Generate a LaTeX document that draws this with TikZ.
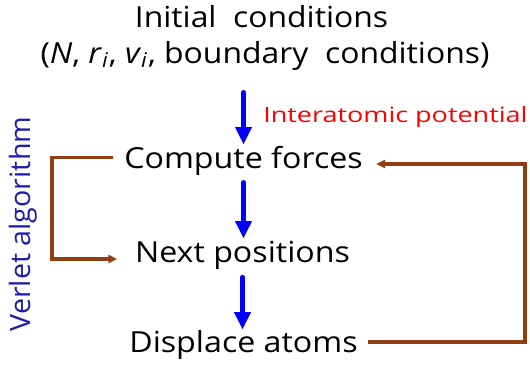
\documentclass[tikz,border=0pt]{standalone}
\usepackage{fontspec}
\setmainfont{Open Sans}
\usetikzlibrary{arrows.meta, positioning, calc}
\definecolor{loopbrown}{RGB}{145,62,16}
\definecolor{verletblue}{RGB}{30,30,170}

\begin{document}
\begin{tikzpicture}[
    x=0.02cm, y=-0.02cm,
    stepbox/.style ={inner sep=0pt, anchor=base, font=\fontsize{16.5}{19}\selectfont},
    title/.style   ={inner sep=0pt, anchor=base, font=\fontsize{16.5}{19}\selectfont},
    flow/.style    ={-{Triangle[length=10pt, width=9pt]}, line width=2.6pt, line cap=round, blue},
    loopline/.style={-{Triangle[length=5pt, width=4.6pt]}, line width=1.8pt, loopbrown},
  ]
  \useasboundingbox (0,0) rectangle (530,365);

  % ---- initial conditions (top) ----
  \node[title] (init)   at (261.5,28) {\scalebox{1.1}[1]{Initial\ \ conditions}};
  \node[title] (params) at (265,63)
    {\scalebox{1.1}[1]{(\textit{N}, \textit{r}\textsubscript{\textit{i}}, \textit{v}\textsubscript{\textit{i}}, boundary\ \ conditions)}};

  % ---- main steps ----
  \node[stepbox] (compute)  at (243.5,168) {\scalebox{1.11}[1]{Compute forces}};
  \node[stepbox] (nextpos)  at (242.5,262) {\scalebox{1.11}[1]{Next positions}};
  \node[stepbox] (displace) at (243.5,352) {\scalebox{1.11}[1]{Displace atoms}};

  % ---- labels ----
  \node[red, anchor=base west, inner sep=0pt, font=\fontsize{12}{15}\selectfont]
    (potential) at (263,122) {\scalebox{1.28}[1]{Interatomic potential}};
  \node[verletblue, rotate=90, inner sep=0pt, font=\fontsize{16}{19}\selectfont]
    (verlet) at (23,224) {\scalebox{1.02}[1]{Verlet algorithm}};

  % ---- loop corners ----
  \coordinate (lcorner) at (52,259);
  \coordinate (rcorner) at (525,164);

  % ---- downward flow ----
  \draw[flow, shorten <=12.5pt, shorten >=0.5pt] (compute.north |- params.south) -- (compute.north);
  \draw[flow, shorten <=4pt, shorten >=1pt] (compute.south) -- (compute.south |- nextpos.north);
  \draw[flow, shorten <=4.5pt, shorten >=0pt] (nextpos.south) -- (nextpos.south |- displace.north);

  % ---- verlet loops ----
  \draw[loopline, shorten <=6pt, shorten >=10pt] ($(compute.west)+(0,-2.5)$) -| (lcorner) -- (lcorner -| nextpos.west);
  \draw[loopline, shorten <=5.5pt, shorten >=7.5pt] ($(displace.east)+(0,-2.5)$) -| (rcorner) -- (rcorner -| compute.east);

\end{tikzpicture}
\end{document}
